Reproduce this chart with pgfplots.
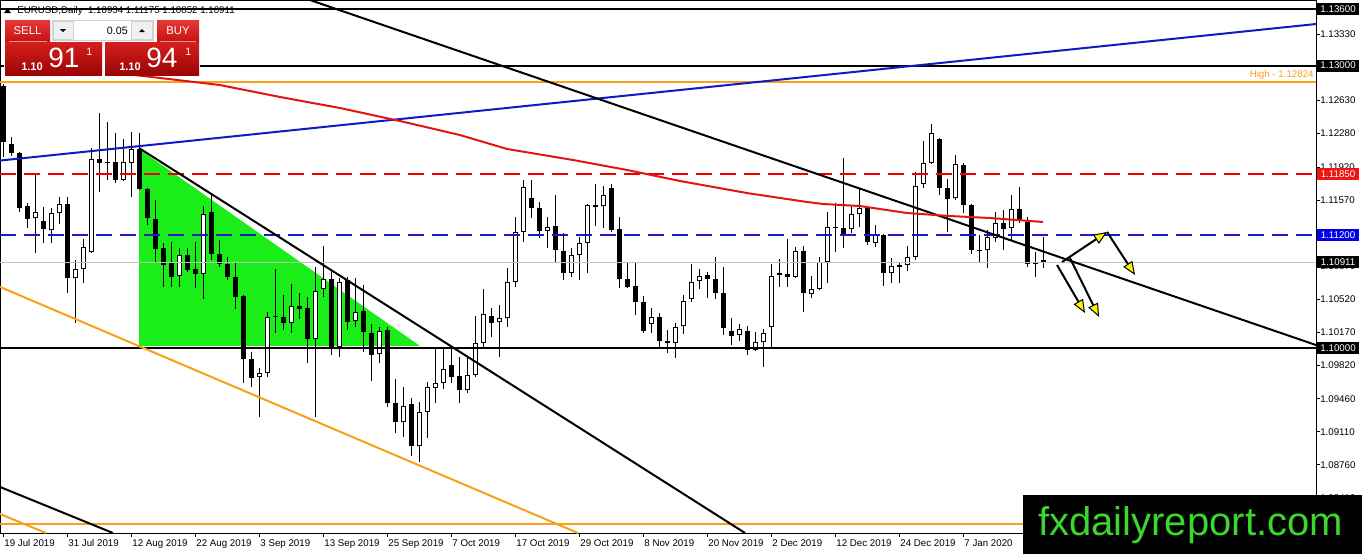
\documentclass[border=0pt]{standalone}
\usepackage{fontspec}
\setmainfont{Liberation Sans}
\usepackage{pgfplots}
\usepackage{pgfplotstable}
\pgfplotsset{compat=1.18}
\usetikzlibrary{arrows.meta}

\definecolor{mtorange}{RGB}{247,160,25}
\definecolor{mtblue}{RGB}{15,25,200}
\definecolor{mtred}{RGB}{228,20,20}
\definecolor{levelred}{RGB}{238,0,0}
\definecolor{lvlblue}{RGB}{20,30,200}
\definecolor{mtgreen}{RGB}{25,238,25}
\definecolor{wmgreen}{RGB}{60,215,45}
\definecolor{bidgray}{RGB}{192,192,192}
\definecolor{btnTop}{RGB}{232,55,55}
\definecolor{btnBot}{RGB}{196,18,18}
\definecolor{btnLine}{RGB}{250,140,140}
\definecolor{pTop}{RGB}{214,30,30}
\definecolor{pBot}{RGB}{155,4,4}
\definecolor{boxred}{RGB}{240,20,20}
\definecolor{boxblue}{RGB}{0,0,230}

\pgfplotstableread{
i o h l c
0 1.12782 1.12804 1.12029 1.12188
1 1.12167 1.12241 1.12039 1.12071
2 1.12071 1.12082 1.11445 1.11487
3 1.11508 1.11540 1.11275 1.11370
4 1.11381 1.11859 1.11009 1.11445
5 1.11349 1.11498 1.11115 1.11264
6 1.11254 1.11487 1.11115 1.11434
7 1.11434 1.11604 1.11318 1.11530
8 1.11530 1.11604 1.10585 1.10744
9 1.10744 1.10935 1.10266 1.10839
10 1.10839 1.11158 1.10691 1.11073
11 1.11020 1.12124 1.11010 1.12007
12 1.12007 1.12496 1.11657 1.11965
13 1.11976 1.12401 1.11785 1.11965
14 1.11976 1.12283 1.11753 1.11785
15 1.11785 1.12219 1.11775 1.11976
16 1.11965 1.12294 1.11604 1.12113
17 1.12113 1.12283 1.11678 1.11689
18 1.11689 1.11700 1.11307 1.11381
19 1.11370 1.11572 1.10903 1.11051
20 1.11062 1.11115 1.10649 1.10882
21 1.10903 1.11126 1.10649 1.10755
22 1.10765 1.11062 1.10649 1.10988
23 1.10988 1.11062 1.10808 1.10829
24 1.10839 1.11126 1.10638 1.10787
25 1.10787 1.11508 1.10521 1.11424
26 1.11445 1.11636 1.10935 1.10999
27 1.10999 1.11147 1.10861 1.10893
28 1.10893 1.10967 1.10723 1.10755
29 1.10755 1.10903 1.10414 1.10543
30 1.10553 1.10560 1.09629 1.09884
31 1.09884 1.09959 1.09587 1.09682
32 1.09693 1.09788 1.09268 1.09735
33 1.09735 1.10383 1.09693 1.10330
34 1.10330 1.10839 1.10160 1.10340
35 1.10330 1.10564 1.10192 1.10266
36 1.10266 1.10681 1.10160 1.10446
37 1.10446 1.10585 1.10308 1.10414
38 1.10425 1.10543 1.09841 1.10096
39 1.10096 1.10861 1.09268 1.10606
40 1.10627 1.11083 1.10543 1.10733
41 1.10733 1.10829 1.09927 1.10012
42 1.10012 1.10744 1.09906 1.10702
43 1.10723 1.10755 1.10192 1.10277
44 1.10287 1.10744 1.10224 1.10383
45 1.10393 1.10670 1.09959 1.10171
46 1.10160 1.10256 1.09650 1.09927
47 1.09938 1.10224 1.09841 1.10181
48 1.10192 1.10224 1.09374 1.09416
49 1.09416 1.09671 1.09098 1.09215
50 1.09215 1.09587 1.09056 1.09384
51 1.09406 1.09470 1.08854 1.08960
52 1.08960 1.09427 1.08790 1.09321
53 1.09321 1.09640 1.09045 1.09587
54 1.09576 1.10001 1.09416 1.09629
55 1.09629 1.09990 1.09565 1.09777
56 1.09820 1.10001 1.09629 1.09693
57 1.09703 1.09906 1.09416 1.09555
58 1.09555 1.09895 1.09523 1.09714
59 1.09714 1.10340 1.09693 1.10054
60 1.10054 1.10627 1.10012 1.10362
61 1.10340 1.10425 1.10118 1.10266
62 1.10277 1.10457 1.09906 1.10319
63 1.10319 1.10850 1.10224 1.10702
64 1.10702 1.11392 1.10649 1.11233
65 1.11233 1.11785 1.11126 1.11711
66 1.11593 1.11785 1.11381 1.11487
67 1.11487 1.11551 1.11169 1.11243
68 1.11243 1.11392 1.11062 1.11286
69 1.11296 1.11625 1.10914 1.11041
70 1.11030 1.11222 1.10723 1.10797
71 1.10797 1.11062 1.10755 1.10988
72 1.10988 1.11180 1.10723 1.11115
73 1.11115 1.11530 1.10797 1.11519
74 1.11519 1.11743 1.11296 1.11498
75 1.11508 1.11721 1.11275 1.11625
76 1.11700 1.11743 1.11233 1.11254
77 1.11264 1.11392 1.10638 1.10733
78 1.10733 1.10914 1.10638 1.10649
79 1.10659 1.10914 1.10351 1.10489
80 1.10489 1.10553 1.10160 1.10181
81 1.10256 1.10425 1.10160 1.10330
82 1.10330 1.10372 1.10001 1.10075
83 1.10075 1.10192 1.09948 1.10054
84 1.10054 1.10266 1.09895 1.10224
85 1.10234 1.10564 1.10150 1.10499
86 1.10521 1.10893 1.10489 1.10702
87 1.10712 1.10839 1.10627 1.10765
88 1.10776 1.10808 1.10532 1.10733
89 1.10733 1.10967 1.10521 1.10585
90 1.10585 1.10861 1.10139 1.10213
91 1.10181 1.10319 1.10033 1.10128
92 1.10139 1.10256 1.10075 1.10202
93 1.10181 1.10234 1.09927 1.09980
94 1.09980 1.10171 1.09970 1.10065
95 1.10065 1.10202 1.09799 1.10160
96 1.10224 1.10893 1.10012 1.10765
97 1.10776 1.10945 1.10649 1.10797
98 1.10787 1.11158 1.10649 1.10755
99 1.10755 1.11073 1.10745 1.11030
100 1.11030 1.11083 1.10383 1.10585
101 1.10575 1.10765 1.10532 1.10627
102 1.10627 1.10967 1.10617 1.10914
103 1.10914 1.11445 1.10691 1.11286
104 1.11286 1.11540 1.11020 1.11275
105 1.11275 1.12018 1.11062 1.11190
106 1.11264 1.11508 1.11222 1.11424
107 1.11424 1.11700 1.11286 1.11487
108 1.11487 1.11498 1.11094 1.11126
109 1.11115 1.11307 1.11073 1.11201
110 1.11201 1.11210 1.10659 1.10797
111 1.10797 1.10956 1.10691 1.10871
112 1.10882 1.10914 1.10691 1.10861
113 1.10882 1.11083 1.10818 1.10967
114 1.10967 1.11870 1.10935 1.11721
115 1.11743 1.12198 1.11700 1.11965
116 1.11965 1.12380 1.11955 1.12283
117 1.12219 1.12230 1.11625 1.11700
118 1.11700 1.11795 1.11233 1.11583
119 1.11593 1.12050 1.11572 1.11955
120 1.11944 1.11965 1.11434 1.11519
121 1.11519 1.11530 1.10999 1.11041
122 1.11036 1.11201 1.10914 1.11041
123 1.11041 1.11254 1.10850 1.11180
124 1.11169 1.11445 1.11126 1.11328
125 1.11328 1.11466 1.11041 1.11264
126 1.11275 1.11625 1.11147 1.11476
127 1.11476 1.11711 1.11328 1.11360
128 1.11339 1.11392 1.10861 1.10893
129 1.10893 1.11020 1.10755 1.10903
130 1.10934 1.11175 1.10852 1.10911
}\candles

\pgfplotstableread{
i p
15.81 1.12905
19.56 1.12868
27.06 1.12793
34.56 1.12666
42.06 1.12549
49.56 1.12411
57.06 1.12262
62.94 1.12114
71.19 1.11997
77.94 1.11891
84.56 1.11774
92.94 1.11646
100.44 1.11551
102.44 1.11530
107.06 1.11508
112.94 1.11434
118.31 1.11402
123.31 1.11381
128.31 1.11349
129.94 1.11339
}\ma

\newcommand\tfont{\fontsize{7.3}{8.8}\selectfont}

\begin{document}
\begin{tikzpicture}
\begin{axis}[
  at={(0pt,0pt)}, anchor=north west,
  width=987pt, height=399.75pt, scale only axis,
  xmin=-0.4375, xmax=164.0625, ymin=1.08036, ymax=1.13696,
  clip mode=individual,
  axis line style={black, line width=0.75pt},
  xtick={0,8,...,120},
  xticklabels={19 Jul 2019,31 Jul 2019,12 Aug 2019,22 Aug 2019,3 Sep 2019,13 Sep 2019,25 Sep 2019,7 Oct 2019,17 Oct 2019,29 Oct 2019,8 Nov 2019,20 Nov 2019,2 Dec 2019,12 Dec 2019,24 Dec 2019,7 Jan 2020},
  xtick pos=bottom, ytick pos=right, yticklabel pos=right,
  ytick={1.0841,1.0876,1.0911,1.0946,1.0982,1.1017,1.1052,1.1087,1.1157,1.1192,1.1228,1.1263,1.1333},
  yticklabels={1.08410,1.08760,1.09110,1.09460,1.09820,1.10170,1.10520,1.10870,1.11570,1.11920,1.12280,1.12630,1.13330},
  tick align=outside, major tick length=3pt,
  every tick/.style={black, line width=0.75pt},
  tick label style={font=\tfont, inner sep=0pt},
  xticklabel style={anchor=north west, xshift=0.5pt, yshift=-1.5pt},
  yticklabel style={anchor=west},
]
% green triangle
\addplot[fill=mtgreen, draw=none, forget plot] coordinates {(16.94,1.12114) (16.94,1.10022) (52.06,1.10022) (16.94,1.12114)};
% wicks
\addplot[draw=none, mark=none, forget plot, error bars/.cd, y dir=plus, y explicit, error mark=none,
  error bar style={draw=black, line width=0.75pt, solid}]
  table[x=i, y=l, y error expr=\thisrow{h}-\thisrow{l}] {\candles};
% bodies
\addplot[draw=none, mark=none, forget plot, error bars/.cd, y dir=plus, y explicit, error mark=none,
  error bar style={draw=black, line width=3.75pt, solid}]
  table[x=i, y expr={min(\thisrow{o},\thisrow{c})}, y error expr={max(abs(\thisrow{c}-\thisrow{o}),0.00009)}] {\candles};
% bullish inner
\addplot[draw=none, mark=none, forget plot, restrict expr to domain={\thisrow{c}-\thisrow{o}}{0.00025:1},
  error bars/.cd, y dir=plus, y explicit, error mark=none,
  error bar style={draw=white, line width=2.25pt, solid}]
  table[x=i, y expr=\thisrow{o}+0.000106, y error expr=\thisrow{c}-\thisrow{o}-0.000212] {\candles};
% horizontal levels
\addplot[draw=black, line width=1.5pt] coordinates {(-0.4375,1.136) (164.0625,1.136)};
\addplot[draw=black, line width=1.5pt] coordinates {(-0.4375,1.13) (164.0625,1.13)};
\addplot[draw=mtorange, line width=1.5pt] coordinates {(-0.4375,1.12824) (164.0625,1.12824)};
\addplot[draw=levelred, line width=1.1pt, dash pattern=on 12pt off 6pt] coordinates {(-0.4375,1.1185) (164.0625,1.1185)};
\addplot[draw=lvlblue, line width=0.9pt, dash pattern=on 12pt off 6pt] coordinates {(-0.4375,1.112) (164.0625,1.112)};
\addplot[draw=bidgray, line width=0.75pt] coordinates {(-0.4375,1.10911) (164.0625,1.10911)};
\addplot[draw=black, line width=1.5pt] coordinates {(-0.4375,1.1) (164.0625,1.1)};
\addplot[draw=mtorange, line width=1.5pt] coordinates {(-0.4375,1.08132) (164.0625,1.08132)};
% trend lines
\addplot[draw=mtblue, line width=1.5pt] coordinates {(-0.4375,1.11991) (164.0625,1.13441)};
\addplot[draw=black, line width=1.5pt] coordinates {(38.31,1.13696) (164.0625,1.10032)};
\addplot[draw=black, line width=1.5pt] coordinates {(16.94,1.12124) (92.69,1.08036)};
\addplot[draw=mtorange, line width=1.5pt] coordinates {(-0.4375,1.10649) (71.81,1.08036)};
\addplot[draw=black, line width=1.5pt] coordinates {(-0.4375,1.08525) (13.69,1.08036)};
\addplot[draw=mtorange, line width=1.5pt] coordinates {(-0.4375,1.08238) (5.31,1.08036)};
% moving average
\addplot[draw=mtred, line width=1.5pt] table[x=i, y=p] {\ma};
% arrows
\addplot[draw=black, line width=1.5pt, -{Triangle[length=10pt,width=8pt,fill=yellow,line width=0.75pt]}] coordinates {(132.31,1.10914) (137.94,1.11233)};
\addplot[draw=black, line width=1.5pt, -{Triangle[length=10pt,width=8pt,fill=yellow,line width=0.75pt]}] coordinates {(137.94,1.11233) (141.44,1.10776)};
\addplot[draw=black, line width=1.5pt, -{Triangle[length=10pt,width=8pt,fill=yellow,line width=0.75pt]}] coordinates {(131.69,1.10882) (135.19,1.10372)};
\addplot[draw=black, line width=1.5pt, -{Triangle[length=10pt,width=8pt,fill=yellow,line width=0.75pt]}] coordinates {(133.31,1.10956) (136.94,1.10330)};
% labels
\node[anchor=south east, inner sep=0pt, text=mtorange, font=\tfont] at (axis cs:163.8,1.12850) {High - 1.12824};
\tikzset{pbox/.style={anchor=west, inner sep=0pt, minimum width=31.5pt, minimum height=9pt, text=white, font=\tfont, xshift=0.6pt}}
\node[pbox, fill=black] at (axis cs:164.0625,1.136) {1.13600};
\node[pbox, fill=black] at (axis cs:164.0625,1.13) {1.13000};
\node[pbox, fill=boxred] at (axis cs:164.0625,1.1185) {1.11850};
\node[pbox, fill=boxblue] at (axis cs:164.0625,1.112) {1.11200};
\node[pbox, fill=black] at (axis cs:164.0625,1.10911) {1.10911};
\node[pbox, fill=black] at (axis cs:164.0625,1.1) {1.10000};
\end{axis}
\begin{scope}[x=0.75pt, y=-0.75pt]
  % header text
  \fill[black] (4,13) -- (11,13) -- (7.5,8) -- cycle;
  \node[anchor=west, inner sep=0pt, font=\tfont] at (17,10.5) {EURUSD,Daily\ \ 1.10934 1.11175 1.10852 1.10911};
  % one click trading panel
  \fill[white] (4,19) rectangle (200,76);
  \shade[top color=btnTop, bottom color=btnBot] (5,20) rectangle (50,42);
  \draw[btnLine, line width=0.75pt] (9,41.5) -- (47,41.5);
  \node[text=white, font=\fontsize{8.5}{9}\selectfont] at (27.5,31) {SELL};
  \shade[top color=btnTop, bottom color=btnBot] (157,20) rectangle (199,42);
  \draw[btnLine, line width=0.75pt] (160,41.5) -- (196,41.5);
  \node[text=white, font=\fontsize{8.5}{9}\selectfont] at (178,31) {BUY};
  \fill[gray!35] (52,20) rectangle (154,41);
  \fill[gray!12] (54,22) rectangle (73,39);
  \fill[white] (74,21) rectangle (131,40);
  \fill[gray!12] (132,22) rectangle (152,39);
  \fill[black] (60,29) -- (66,29) -- (63,32) -- cycle;
  \fill[black] (139,32) -- (145,32) -- (142,29) -- cycle;
  \node[anchor=east, inner sep=0pt, font=\fontsize{8}{9}\selectfont] at (128,30.5) {0.05};
  \shade[top color=pTop, bottom color=pBot] (5,42.5) rectangle (102,75);
  \shade[top color=pTop, bottom color=pBot] (105,42.5) rectangle (199,75);
  \node[anchor=base west, inner sep=0pt, text=white, font=\fontsize{8.3}{9}\selectfont\bfseries] at (21,70) {1.10};
  \node[anchor=base west, inner sep=0pt, text=white, font=\fontsize{21}{21}\selectfont] at (48,67) {91};
  \node[anchor=base west, inner sep=0pt, text=white, font=\fontsize{8}{8}\selectfont] at (86,55) {1};
  \node[anchor=base west, inner sep=0pt, text=white, font=\fontsize{8.3}{9}\selectfont\bfseries] at (119,70) {1.10};
  \node[anchor=base west, inner sep=0pt, text=white, font=\fontsize{21}{21}\selectfont] at (146,67) {94};
  \node[anchor=base west, inner sep=0pt, text=white, font=\fontsize{8}{8}\selectfont] at (185,55) {1};
  % watermark
  \fill[black] (1023,495) rectangle (1362,554);
  \node[anchor=base west, inner sep=0pt, text=wmgreen, font=\fontsize{30}{30}\selectfont] at (1038,535) {fxdailyreport.com};
\end{scope}
\pgfresetboundingbox
\path[use as bounding box] (0pt,0pt) rectangle (1021.5pt,-415.5pt);
\end{tikzpicture}
\end{document}
